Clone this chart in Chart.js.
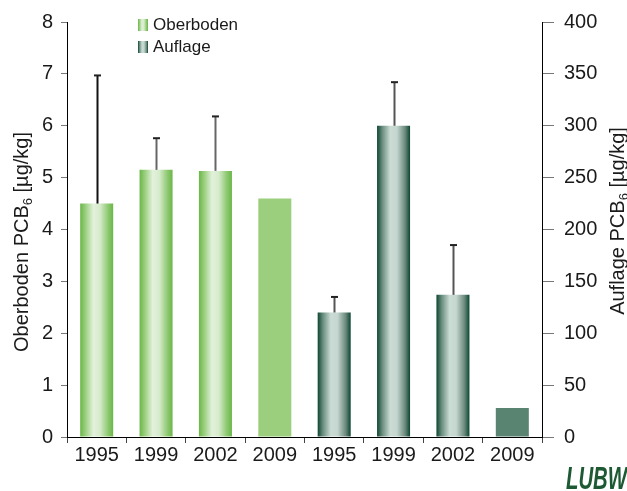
<!DOCTYPE html>
<html><head><meta charset="utf-8">
<script src="https://cdn.jsdelivr.net/npm/chart.js@4/dist/chart.umd.min.js"></script>
<style>html,body{margin:0;padding:0;background:#fff}#wrap{position:relative;width:627px;height:491px}</style>
</head><body><div id="wrap"><canvas id="c" width="627" height="491"></canvas></div>
<script>
const categories = ['1995','1999','2002','2009','1995','1999','2002','2009'];
const oberboden = [4.5, 5.15, 5.13, 4.6, null, null, null, null];
const oberbodenErrTop = [6.97, 5.76, 6.18, null, null, null, null, null];
const auflage = [null, null, null, null, 120, 300, 137, 28];
const auflageErrTop = [null, null, null, null, 135, 342, 185, null];
const leftTicks = [0,1,2,3,4,5,6,7,8];
const rightTicks = [0,50,100,150,200,250,300,350,400];
const legendLabels = ['Oberboden','Auflage'];

const FONT = "'Liberation Sans', Arial, sans-serif";
const BAR_PCT = 0.556;
const greenStops = [[0,'#6ab648'],[0.18,'#9fd285'],[0.4,'#e3f1dc'],[0.6,'#d6ebcb'],[0.85,'#8cc86f'],[1,'#6ab648']];
const darkStops = [[0,'#0b4630'],[0.15,'#668a7c'],[0.4,'#cbdcd5'],[0.6,'#c4d6cf'],[0.85,'#6b897d'],[1,'#0b4630']];

function barGradient(ctx, stops, solid, solidIndex){
  if (ctx.dataIndex === solidIndex) return solid;
  const chart = ctx.chart, x = chart.scales.x;
  if (!x || !chart.chartArea) return stops[2][1];
  const cx = x.getPixelForValue(ctx.dataIndex);
  const w = (x.width / categories.length) * BAR_PCT;
  const g = chart.ctx.createLinearGradient(cx - w/2, 0, cx + w/2, 0);
  stops.forEach(s => g.addColorStop(s[0], s[1]));
  return g;
}

const overlay = {
  id: 'overlay',
  afterDatasetsDraw(chart){
    const c = chart.ctx, x = chart.scales.x;
    const drawErr = (vals, tops, scale, colors) => {
      vals.forEach((v,i) => {
        if (v == null || tops[i] == null) return;
        const px = Math.round(x.getPixelForValue(i)) + 0.5;
        const y0 = scale.getPixelForValue(v), y1 = scale.getPixelForValue(tops[i]);
        c.save();
        c.strokeStyle = colors[i] || '#666'; c.lineWidth = 2;
        c.beginPath(); c.moveTo(px, y0); c.lineTo(px, y1); c.stroke();
        c.strokeStyle = '#222'; c.lineWidth = 2;
        c.beginPath(); c.moveTo(px-3.5, y1); c.lineTo(px+3.5, y1); c.stroke();
        c.restore();
      });
    };
    drawErr(oberboden, oberbodenErrTop, chart.scales.y, ['#111','#666','#666']);
    drawErr(auflage, auflageErrTop, chart.scales.y2, [null,null,null,null,'#555','#555','#555']);
  },
  afterDraw(chart){
    const c = chart.ctx;
    // legend
    const boxes = [[greenStops, 22], [darkStops, 44]];
    legendLabels.forEach((t, i) => {
      const [stops, y] = boxes[i];
      const g = c.createLinearGradient(138, 0, 148, 0);
      stops.forEach(s => g.addColorStop(s[0], s[1]));
      c.fillStyle = g; c.fillRect(138, y - 3, 10, 12);
      c.fillStyle = '#1a1a1a'; c.font = '17px ' + FONT;
      c.textBaseline = 'middle'; c.textAlign = 'left';
      c.fillText(t, 153, y + 3);
    });
    // axis titles with subscript
    const title = (parts, cx, cy) => {
      c.save(); c.translate(cx, cy); c.rotate(-Math.PI/2);
      c.fillStyle = '#1a1a1a'; c.textBaseline = 'alphabetic'; c.textAlign = 'left';
      const big = '20px ' + FONT, small = '13px ' + FONT;
      let total = 0;
      parts.forEach(p => { c.font = p.sub ? small : big; total += c.measureText(p.t).width; });
      let xx = -total/2;
      parts.forEach(p => { c.font = p.sub ? small : big; c.fillText(p.t, xx, p.sub ? 10 : 6); xx += c.measureText(p.t).width; });
      c.restore();
    };
    title([{t:'Oberboden PCB'},{t:'6',sub:true},{t:' [µg/kg]'}], 22, 242);
    title([{t:'Auflage PCB'},{t:'6',sub:true},{t:' [µg/kg]'}], 618, 221);
    // logo
    c.save();
    c.fillStyle = '#1d5a33';
    c.font = 'italic bold 31px ' + FONT;
    c.textAlign = 'left'; c.textBaseline = 'alphabetic';
    const w = c.measureText('LUBW').width;
    c.translate(566, 489); c.scale(61 / w, 1);
    c.fillText('LUBW', 0, 0);
    c.restore();
  }
};

new Chart(document.getElementById('c'), {
  type: 'bar',
  data: {
    labels: categories,
    datasets: [
      { label: legendLabels[0], data: oberboden, yAxisID: 'y', grouped: false,
        barPercentage: BAR_PCT, categoryPercentage: 1,
        backgroundColor: ctx => barGradient(ctx, greenStops, '#9bcf7d', 3) },
      { label: legendLabels[1], data: auflage, yAxisID: 'y2', grouped: false,
        barPercentage: BAR_PCT, categoryPercentage: 1,
        backgroundColor: ctx => barGradient(ctx, darkStops, '#5a8472', 7) }
    ]
  },
  options: {
    responsive: false, animation: false, devicePixelRatio: 1,
    layout: { padding: { top: 22, left: 0, right: 0, bottom: 0 } },
    plugins: { legend: { display: false }, tooltip: { enabled: false } },
    scales: {
      x: {
        afterFit: s => { s.height = 54; },
        grid: { drawOnChartArea: false, drawTicks: true, tickLength: 6, color: '#444', offset: true },
        border: { color: '#000', width: 1 },
        ticks: { color: '#1a1a1a', font: { family: FONT, size: 20 }, padding: 0, maxRotation: 0 }
      },
      y: {
        position: 'left', min: 0, max: 8,
        afterFit: s => { s.width = 67; },
        afterBuildTicks: s => { s.ticks = leftTicks.map(v => ({ value: v })); },
        grid: { drawOnChartArea: false, tickLength: 6, color: '#777' },
        border: { color: '#000', width: 1 },
        ticks: { color: '#1a1a1a', font: { family: FONT, size: 20 }, padding: 8 }
      },
      y2: {
        position: 'right', min: 0, max: 400,
        afterFit: s => { s.width = 85; },
        afterBuildTicks: s => { s.ticks = rightTicks.map(v => ({ value: v })); },
        grid: { drawOnChartArea: false, tickLength: 12, color: '#777' },
        border: { color: '#000', width: 1 },
        ticks: { color: '#1a1a1a', font: { family: FONT, size: 20 }, padding: 10 }
      }
    }
  },
  plugins: [overlay]
});
</script></body></html>
